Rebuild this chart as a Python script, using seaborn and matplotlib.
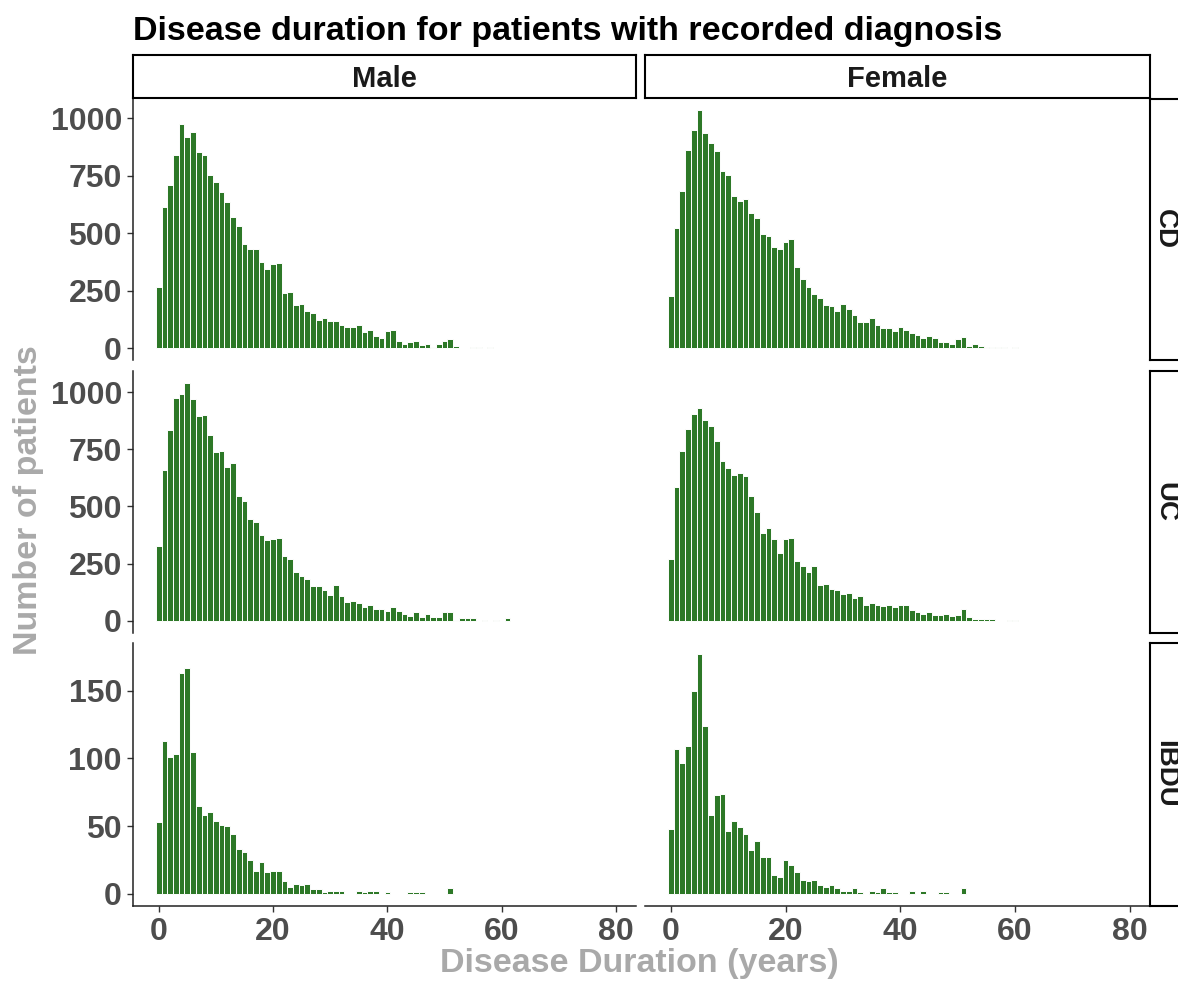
import pandas as pd
import matplotlib
matplotlib.use("Agg")
import matplotlib.pyplot as plt
import seaborn as sns

# Number of patients per year of disease duration (index = years, starting at 0)
male_cd = [268, 613, 710, 840, 975, 920, 943, 852, 840, 755, 722, 680, 635, 571, 533, 452,
           430, 430, 377, 343, 365, 371, 242, 246, 187, 194, 161, 151, 123, 133, 117, 117,
           101, 91, 91, 101, 70, 80, 54, 42, 75, 80, 32, 20, 26, 32, 14, 20, 4, 20, 32, 38,
           10, 0, 0, 3, 3, 0, 3]
female_cd = [226, 523, 686, 862, 948, 1035, 938, 894, 857, 771, 754, 662, 642, 648, 587, 565,
             496, 490, 442, 430, 462, 474, 351, 300, 268, 236, 220, 187, 183, 161, 193, 171,
             145, 113, 113, 129, 101, 86, 86, 75, 91, 80, 64, 58, 42, 54, 42, 26, 26, 20, 38,
             48, 10, 16, 10, 4, 4, 4, 4, 0, 3]
male_uc = [325, 661, 835, 975, 993, 1041, 971, 895, 900, 813, 737, 743, 671, 689, 547, 525,
           444, 433, 374, 351, 357, 361, 281, 269, 211, 194, 181, 151, 151, 135, 111, 155,
           107, 80, 86, 75, 58, 69, 53, 53, 42, 58, 42, 31, 19, 37, 15, 31, 15, 15, 37, 37,
           4, 10, 10, 10, 0, 3, 0, 3, 0, 10]
female_uc = [269, 585, 744, 841, 905, 933, 879, 851, 787, 699, 667, 639, 645, 633, 547, 475,
             383, 405, 357, 297, 357, 361, 259, 237, 215, 237, 155, 161, 139, 133, 117, 123,
             101, 107, 69, 79, 69, 63, 69, 58, 69, 69, 47, 37, 31, 37, 25, 25, 31, 19, 25,
             53, 15, 9, 9, 9, 9, 0, 0, 3, 3]
male_ibdu = [53, 113, 101, 103, 163, 167, 105, 65, 58, 60, 54, 51, 50, 44, 33, 31, 25, 17,
             23, 16, 17, 17, 9, 5, 7, 6, 7, 3, 3, 1, 2, 2, 2, 0, 0, 2, 1, 2, 2, 0, 1, 0, 0,
             0, 1, 1, 1, 0, 0, 0, 0, 4]
female_ibdu = [48, 107, 97, 109, 150, 177, 124, 58, 73, 74, 46, 54, 49, 44, 32, 39, 27, 27,
               14, 12, 25, 21, 16, 10, 9, 10, 6, 5, 6, 4, 2, 2, 4, 1, 0, 2, 1, 4, 1, 1, 0,
               0, 2, 0, 2, 0, 0, 1, 1, 0, 0, 4]

sexes = ["Male", "Female"]
diagnoses = ["CD", "UC", "IBDU"]
series = {("Male", "CD"): male_cd, ("Female", "CD"): female_cd,
          ("Male", "UC"): male_uc, ("Female", "UC"): female_uc,
          ("Male", "IBDU"): male_ibdu, ("Female", "IBDU"): female_ibdu}

rows = []
for (sex, dx), counts in series.items():
    for yr, n in enumerate(counts):
        rows.append({"sex": sex, "diagnosis": dx, "duration": yr, "n": n})
df = pd.DataFrame(rows)

sns.set_style("white")
plt.rcParams["font.family"] = ["Liberation Sans", "DejaVu Sans"]
plt.rcParams["font.weight"] = "bold"

W, H = 1178, 981
fig = plt.figure(figsize=(W / 100, H / 100), dpi=100)


def px_axes(x0, y0, x1, y1):
    return fig.add_axes([x0 / W, 1 - y1 / H, (x1 - x0) / W, (y1 - y0) / H])


col_px = {"Male": (133, 636), "Female": (645, 1150)}
row_px = {"CD": (98.5, 360), "UC": (371, 632.5), "IBDU": (642.5, 905.5)}
yticks = {"CD": [0, 250, 500, 750, 1000], "UC": [0, 250, 500, 750, 1000],
          "IBDU": [0, 50, 100, 150]}
bar_color = "#2d7827"
tick_color = "#4D4D4D"
lab_color = "#A9A9A9"

for dx in diagnoses:
    ymax = df.loc[df.diagnosis == dx, "n"].max()
    for sex in sexes:
        x0, x1 = col_px[sex]
        y0, y1 = row_px[dx]
        ax = px_axes(x0, y0, x1, y1)
        sub = df[(df.sex == sex) & (df.diagnosis == dx)]
        sns.histplot(data=sub, x="duration", weights="n", discrete=True, ax=ax,
                     color=bar_color, edgecolor="white", linewidth=0.7, alpha=1)
        ax.set_xlim(-4.5, 83.5)
        ax.set_ylim(-0.05 * ymax, 1.05 * ymax)
        ax.set_xlabel("")
        ax.set_ylabel("")
        ax.set_xticks([0, 20, 40, 60, 80])
        ax.set_yticks(yticks[dx])
        for s in ax.spines.values():
            s.set_visible(False)
        left = sex == "Male"
        bottom = dx == "IBDU"
        ax.spines["left"].set_visible(left)
        ax.spines["bottom"].set_visible(bottom)
        for s in ("left", "bottom"):
            ax.spines[s].set_linewidth(1.1)
            ax.spines[s].set_color("#222222")
        ax.tick_params(axis="y", left=left, labelleft=left, length=4, width=1,
                       color="#333333", labelsize=23, labelcolor=tick_color, pad=4)
        ax.tick_params(axis="x", bottom=bottom, labelbottom=bottom, length=4, width=1,
                       color="#333333", labelsize=23, labelcolor=tick_color, pad=4)
        for lbl in ax.get_xticklabels() + ax.get_yticklabels():
            lbl.set_fontweight("bold")

# facet strips
for sex in sexes:
    x0, x1 = col_px[sex]
    sax = px_axes(x0, 55, x1, 98)
    sax.set_xticks([])
    sax.set_yticks([])
    for s in sax.spines.values():
        s.set_visible(True)
        s.set_color("black")
        s.set_linewidth(1.5)
    sax.text(0.5, 0.44, sex, ha="center", va="center", fontsize=21,
             fontweight="bold", color="#1A1A1A", transform=sax.transAxes)

for dx in diagnoses:
    y0, y1 = row_px[dx]
    sax = px_axes(1150, y0, 1193, y1)
    sax.set_xticks([])
    sax.set_yticks([])
    for s in sax.spines.values():
        s.set_visible(True)
        s.set_color("black")
        s.set_linewidth(1.5)
    fig.text(1165 / W, 1 - (y0 + y1) / 2 / H, dx, ha="center", va="center", fontsize=20,
             rotation=270, fontweight="bold", color="#1A1A1A")

fig.text(133 / W, 1 - 40 / H, "Disease duration for patients with recorded diagnosis",
         ha="left", va="baseline", fontsize=24.5, fontweight="bold", color="black")
fig.text(29 / W, 1 - 500 / H, "Number of patients", rotation=90, ha="center",
         va="center", fontsize=24.5, fontweight="bold", color=lab_color)
fig.text(639 / W, 1 - 972 / H, "Disease Duration (years)", ha="center",
         va="baseline", fontsize=24.5, fontweight="bold", color=lab_color)

fig.savefig("out.png", dpi=100)
